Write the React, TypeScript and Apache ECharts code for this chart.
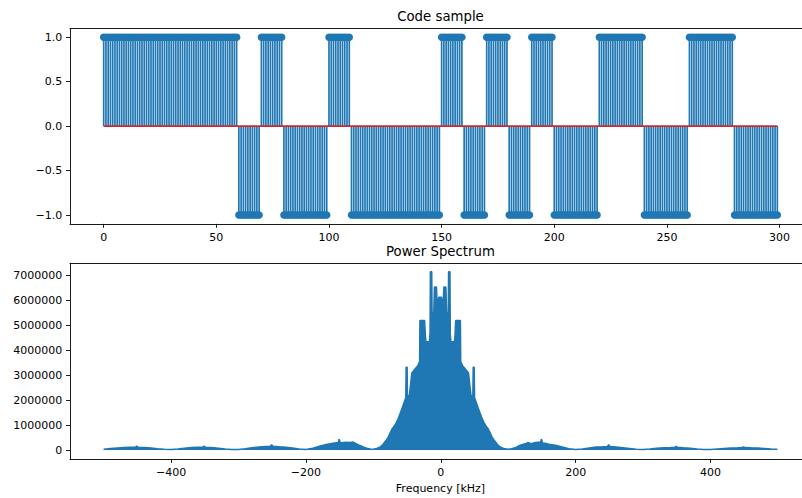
import React, { useEffect, useRef } from "react";
import * as echarts from "echarts";

// ---- Code sample (stem plot) ----
const chips = [1, 1, 1, 1, 1, 1, -1, 1, -1, -1, 1, -1, -1, -1, -1, 1, -1, 1, -1, 1, -1, -1, 1, 1, -1, -1, 1, 1, -1, -1];
const samplesPerChip = 10;
const codeXTicks = [0, 50, 100, 150, 200, 250, 300];
const codeYTicks = [-1, -0.5, 0, 0.5, 1];

// ---- Power spectrum (upper envelope) ----
const specXTicks = [-400, -200, 0, 200, 400];
const specYTicks = [0, 1000000, 2000000, 3000000, 4000000, 5000000, 6000000, 7000000];
const specFreq = [
  -500, -490, -480, -470, -460, -453, -451, -449, -440, -430, -420, -410, -400,
  -390, -380, -370, -360, -353, -351, -349, -340, -330, -320, -310, -300,
  -290, -280, -270, -260, -253, -251, -249, -240, -230, -220, -210, -200,
  -190, -180, -170, -160, -155, -152, -151, -150, -149, -145, -140, -135, -130, -125, -120, -115, -110, -105, -100,
  -95, -90, -86, -82, -78, -75, -72, -69, -66, -63, -60, -57, -54, -52, -51.5, -50, -49.5, -47, -45, -43, -40, -37, -34,
  -31.5, -31, -24, -23, -22, -17, -16, -15.5, -13.5, -13, -10.5, -9.5, -6.5, -5.5, -4, -3, 1, 2, 3.5, 4.5, 7.5, 8.5, 11,
  11.5, 13.5, 14, 15, 20, 21, 22, 29, 29.5, 32, 35, 38, 41, 43, 45, 47.5, 48, 49.5, 50, 52, 55, 58, 61, 64, 67, 70, 73,
  76, 80, 84, 88, 93,
  100, 105, 110, 115, 120, 125, 129, 134, 140, 145, 148, 149, 150, 151, 155, 160, 170, 180, 190, 200,
  210, 220, 230, 240, 247, 249, 251, 260, 270, 280, 290, 300,
  310, 320, 330, 340, 347, 349, 351, 360, 370, 380, 390, 400,
  410, 420, 430, 440, 447, 449, 451, 460, 470, 480, 490, 499,
];
const specPower = [
  30000, 60000, 80000, 100000, 110000, 110000, 160000, 110000, 100000, 80000, 50000, 30000, 20000,
  40000, 70000, 100000, 110000, 110000, 160000, 110000, 100000, 70000, 40000, 20000, 20000,
  50000, 90000, 120000, 140000, 150000, 210000, 150000, 130000, 110000, 80000, 40000, 20000,
  70000, 150000, 220000, 270000, 290000, 300000, 440000, 440000, 280000, 300000, 310000, 300000, 320000, 250000, 180000, 120000, 70000, 40000, 30000,
  60000, 120000, 220000, 360000, 520000, 700000, 860000, 970000, 1100000, 1280000, 1500000, 1720000, 1950000, 2100000, 3330000, 3330000, 2200000, 2130000, 2600000, 3100000, 3200000, 3300000, 3400000,
  3550000, 5200000, 5200000, 4600000, 4350000, 4350000, 4700000, 7160000, 7160000, 5500000, 5500000, 6550000, 6550000, 5900000, 5950000, 6140000, 6140000, 5950000, 5900000, 6550000, 6550000, 5500000, 5500000,
  7160000, 7160000, 4700000, 4350000, 4350000, 4600000, 5200000, 5200000, 3550000, 3400000, 3300000, 3200000, 3100000, 2600000, 2130000, 2200000, 3330000, 3330000, 2100000, 1950000, 1720000, 1500000, 1280000, 1100000, 970000, 860000, 700000,
  520000, 360000, 220000, 120000, 60000,
  30000, 50000, 90000, 160000, 210000, 250000, 300000, 250000, 300000, 310000, 300000, 440000, 440000, 280000, 270000, 230000, 190000, 120000, 50000, 20000,
  40000, 80000, 120000, 130000, 140000, 210000, 140000, 120000, 90000, 60000, 30000, 20000,
  40000, 70000, 90000, 100000, 110000, 150000, 110000, 90000, 70000, 40000, 20000, 20000,
  40000, 60000, 80000, 90000, 100000, 130000, 100000, 90000, 80000, 60000, 40000, 30000,
];

const BLUE = "#1f77b4";
const RED = "#d62728";
const FONT = "DejaVu Sans";
const minus = (s: string) => s.replace("-", "\u2212");

export default function App() {
  const ref = useRef<HTMLDivElement>(null);

  useEffect(() => {
    document.body.style.margin = "0";
    document.body.style.overflow = "hidden";
    if (!ref.current) return;
    const chart = echarts.init(ref.current, undefined, { renderer: "svg" });

    const samples: number[] = [];
    chips.forEach((c) => {
      for (let k = 0; k < samplesPerChip; k++) samples.push(c);
    });
    const stemData = samples.map((v, i) => [i, v]);
    const specData = specFreq.map((f, i) => [f, specPower[i]]);

    const spine = { show: true, onZero: false, lineStyle: { color: "#000", width: 0.9 } };

    const axisCommon = (ticks: number[], fmt: (v: number) => string, margin: number) => ({
      type: "value" as const,
      splitLine: { show: false },
      axisLine: spine,
      axisTick: {
        show: true,
        inside: false,
        length: 3.9,
        customValues: ticks,
        lineStyle: { color: "#000", width: 0.9 },
      },
      axisLabel: {
        customValues: ticks,
        margin,
        fontSize: 11,
        fontFamily: FONT,
        color: "#000",
        formatter: (v: number) => fmt(v),
      },
    });

    const topSpine = (gridIndex: number, min: number, max: number) => ({
      gridIndex,
      type: "value" as const,
      position: "top" as const,
      min,
      max,
      axisLine: spine,
      axisTick: { show: false },
      axisLabel: { show: false },
      splitLine: { show: false },
    });

    const option: any = {
      animation: false,
      backgroundColor: "#fff",
      textStyle: { fontFamily: FONT },
      grid: [
        { left: 70, top: 28.4, width: 741, height: 195.5, show: false, outerBoundsMode: "none" },
        { left: 70, top: 263.3, width: 741, height: 195.7, show: false, outerBoundsMode: "none" },
      ],
      xAxis: [
        { gridIndex: 0, min: -14.95, max: 313.95, ...axisCommon(codeXTicks, (v) => minus(String(v)), 7.8) },
        { gridIndex: 1, min: -549.95, max: 548.95, ...axisCommon(specXTicks, (v) => minus(String(v)), 7.8) },
        topSpine(0, -14.95, 313.95),
        topSpine(1, -549.95, 548.95),
      ],
      yAxis: [
        { gridIndex: 0, min: -1.1, max: 1.1, ...axisCommon(codeYTicks, (v) => minus(v.toFixed(1)), 7.8) },
        { gridIndex: 1, min: -360000, max: 7500000, ...axisCommon(specYTicks, (v) => minus(String(v)), 7.8) },
      ],
      graphic: [
        { type: "text", x: 440.5, y: 16, style: { text: "Code sample", align: "center", verticalAlign: "middle", fontSize: 13.3, fontFamily: FONT, fill: "#000" } },
        { type: "text", x: 440.5, y: 251, style: { text: "Power Spectrum", align: "center", verticalAlign: "middle", fontSize: 13.3, fontFamily: FONT, fill: "#000" } },
        { type: "text", x: 440.5, y: 488.5, style: { text: "Frequency [kHz]", align: "center", verticalAlign: "middle", fontSize: 11, fontFamily: FONT, fill: "#000" } },
      ],
      series: [
        {
          type: "bar",
          xAxisIndex: 0,
          yAxisIndex: 0,
          data: stemData,
          barWidth: 1.7,
          itemStyle: { color: BLUE },
          z: 2,
        },
        {
          type: "scatter",
          xAxisIndex: 0,
          yAxisIndex: 0,
          data: stemData,
          symbol: "circle",
          symbolSize: 7.5,
          itemStyle: { color: BLUE, opacity: 1 },
          z: 3,
        },
        {
          type: "line",
          xAxisIndex: 0,
          yAxisIndex: 0,
          data: [
            [0, 0],
            [samples.length - 1, 0],
          ],
          symbol: "none",
          lineStyle: { color: RED, width: 1.7 },
          z: 4,
        },
        {
          type: "line",
          xAxisIndex: 1,
          yAxisIndex: 1,
          data: specData,
          symbol: "none",
          showSymbol: false,
          lineStyle: { color: BLUE, width: 1.5 },
          areaStyle: { color: BLUE, opacity: 1 },
          z: 2,
        },
      ],
    };

    chart.setOption(option);
    return () => chart.dispose();
  }, []);

  return (
    <div style={{ width: 802, height: 498, overflow: "hidden", position: "relative" }}>
      <div ref={ref} style={{ width: 900, height: 498 }} />
    </div>
  );
}
